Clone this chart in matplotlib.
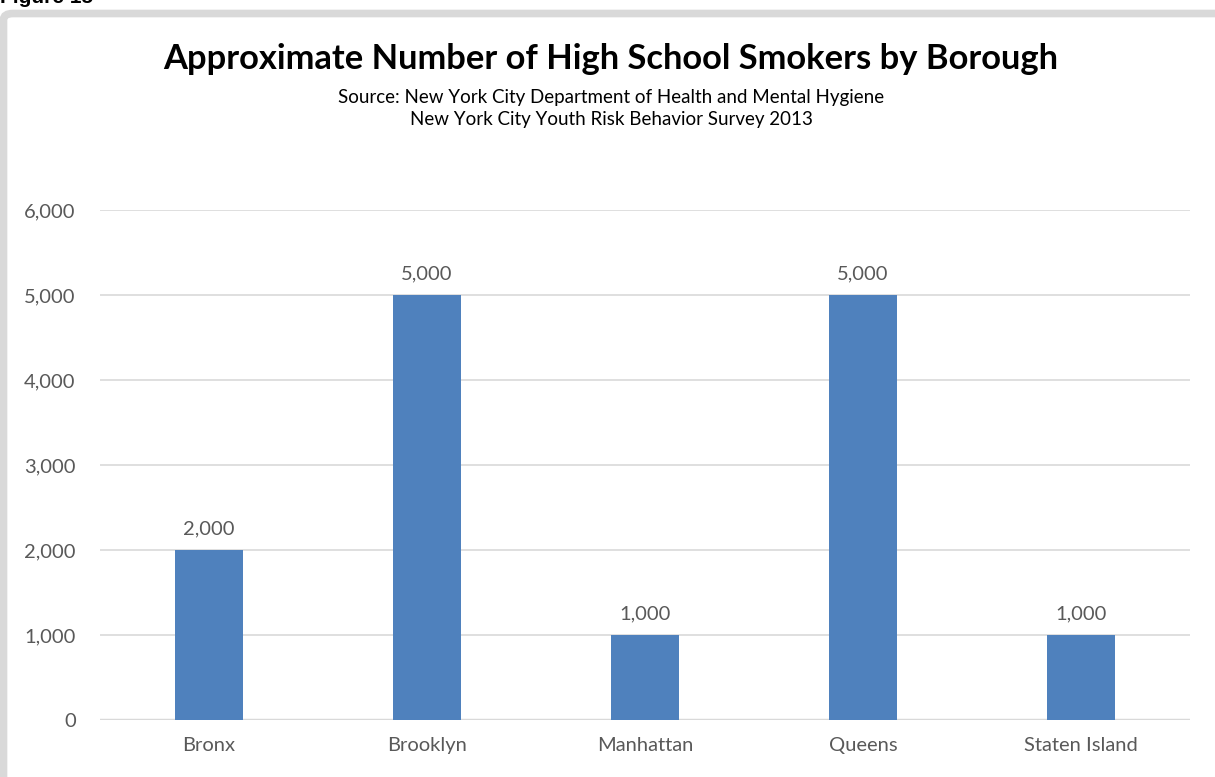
import numpy as np
import matplotlib
matplotlib.use('Agg')
import matplotlib.pyplot as plt
from matplotlib.patches import FancyBboxPatch

# Data
boroughs = ['Bronx', 'Brooklyn', 'Manhattan', 'Queens', 'Staten Island']
smokers = [2000, 5000, 1000, 5000, 1000]
yticks = [0, 1000, 2000, 3000, 4000, 5000, 6000]

BAR = '#4f81bd'
GREY = '#d9d9d9'
TXT = '#595959'
FONT = ['Lato', 'DejaVu Sans']

plt.rcParams['font.family'] = FONT

W, H = 1215, 777
fig = plt.figure(figsize=(W / 100, H / 100), dpi=100)

# grey frame of the figure box (cropped on the right/bottom)
frame = FancyBboxPatch((3.5 / W, -0.1), 1.2, 1 - 13.5 / H + 0.1,
                       boxstyle='round,pad=0,rounding_size=0.008',
                       transform=fig.transFigure, facecolor='white',
                       edgecolor=GREY, linewidth=5.5, zorder=-5)
fig.patches.append(frame)

# "Figure 15" label, cut at the top edge as in the source page
fig.text(0.0, 1 - 3 / H, 'Figure 15', fontsize=15, fontweight='bold',
         color='black', ha='left', va='baseline', family=['Liberation Sans'])

ax = fig.add_axes([100 / W, 1 - 720 / H, 1090 / W, 510 / H], zorder=2)
x = np.arange(len(boroughs))
bars = ax.bar(x, smokers, width=0.31, color=BAR, zorder=3)

ax.set_xlim(-0.5, len(boroughs) - 0.5)
ax.set_ylim(0, 6000)
ax.set_yticks(yticks)
ax.set_yticklabels([f'{v:,}' for v in yticks])
ax.set_xticks(x)
ax.set_xticklabels(boroughs)
ax.grid(axis='y', color=GREY, linewidth=1.2, zorder=0)
ax.axhline(0, color=GREY, linewidth=2.5, zorder=2)
for s in ax.spines.values():
    s.set_visible(False)
ax.tick_params(axis='both', length=0, labelsize=14.5, colors=TXT)
ax.tick_params(axis='y', pad=17.5)
ax.tick_params(axis='x', pad=12)
ax.set_facecolor('none')

for b, v in zip(bars, smokers):
    ax.annotate(f'{v:,}', (b.get_x() + b.get_width() / 2, v),
                xytext=(0, 9), textcoords='offset points',
                ha='center', va='bottom', fontsize=14.5, color=TXT)

fig.text(611 / W, 1 - 59 / H, 'Approximate Number of High School Smokers by Borough',
         ha='center', va='center', fontsize=24.8, fontweight='bold', color='black')
fig.text(611 / W, 1 - 97 / H, 'Source: New York City Department of Health and Mental Hygiene',
         ha='center', va='center', fontsize=13.5, color='black')
fig.text(611 / W, 1 - 119 / H, 'New York City Youth Risk Behavior Survey 2013',
         ha='center', va='center', fontsize=13.5, color='black')

fig.savefig('out.png', dpi=100)
